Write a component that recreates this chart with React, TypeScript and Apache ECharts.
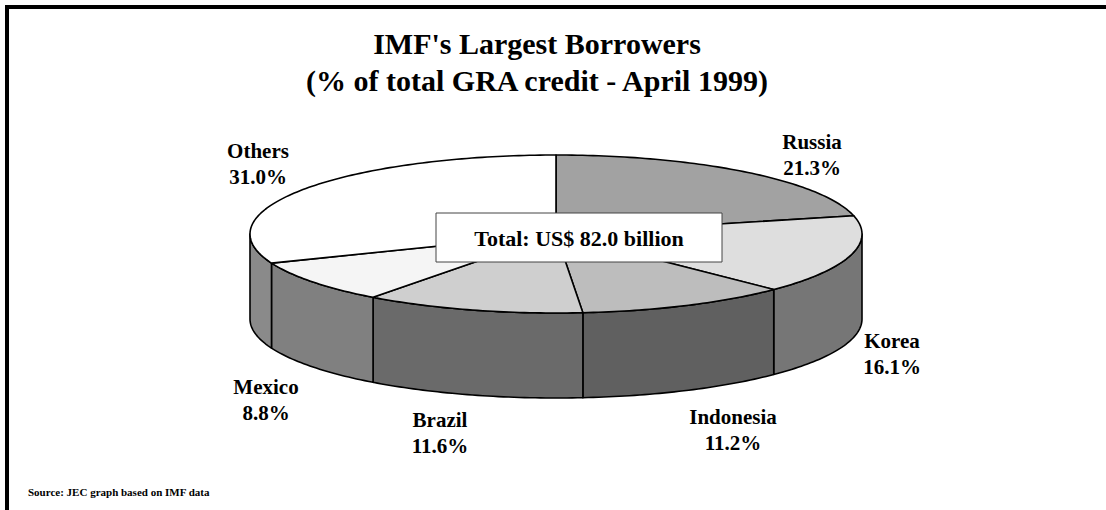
import React, { useEffect, useRef } from "react";
import * as echarts from "echarts";

// ---- data ----
const CATEGORIES = ["Russia", "Korea", "Indonesia", "Brazil", "Mexico", "Others"];
const VALUES = [21.3, 16.1, 11.2, 11.6, 8.8, 31.0];
const TITLE_LINES = ["IMF's Largest Borrowers", "(% of total GRA credit - April 1999)"];
const TOTAL_LABEL = "Total: US$ 82.0 billion";
const SOURCE_LABEL = "Source: JEC graph based on IMF data";

// ---- styles / layout ----
const TOP_COLORS = ["#a2a2a2", "#dedede", "#bdbdbd", "#cfcfcf", "#f5f5f5", "#ffffff"];
const SIDE_COLORS = ["#777777", "#767676", "#606060", "#6a6a6a", "#808080", "#8a8a8a"];
const CX = 556;
const CY = 234;
const RX = 306;
const RY = 79;
const DEPTH = 85;
// label centres (page pixels)
const LABEL_POS: [number, number][] = [
  [812, 155],
  [892, 354],
  [733, 430],
  [440, 433],
  [266, 400],
  [258, 164],
];
const FONT = "'Liberation Serif', 'Times New Roman', serif";

function pt(t: number, dy = 0): number[] {
  return [CX + RX * Math.sin(t), CY - RY * Math.cos(t) + dy];
}

function sliceAngles(): [number, number][] {
  const total = VALUES.reduce((s, v) => s + v, 0);
  let acc = 0;
  return VALUES.map((v) => {
    const a = (acc / total) * Math.PI * 2;
    acc += v;
    const b = (acc / total) * Math.PI * 2;
    return [a, b];
  });
}

function arc(a: number, b: number, dy = 0): number[][] {
  const n = Math.max(2, Math.ceil(Math.abs(b - a) / (Math.PI / 180)));
  const out: number[][] = [];
  for (let k = 0; k <= n; k++) out.push(pt(a + ((b - a) * k) / n, dy));
  return out;
}

export default function App() {
  const ref = useRef<HTMLDivElement>(null);
  useEffect(() => {
    if (!ref.current) return;
    const chart = echarts.init(ref.current, undefined, { renderer: "svg" });
    const angles = sliceAngles();
    const data = VALUES.map((v, i) => ({ name: CATEGORIES[i], value: [i, v] }));

    const option: any = {
      animation: false,
      backgroundColor: "#ffffff",
      title: {
        left: 532,
        top: 20,
        textAlign: "center",
        text: TITLE_LINES.join("\n"),
        textStyle: {
          fontFamily: FONT,
          fontWeight: "bold",
          fontSize: 30,
          lineHeight: 37,
          color: "#000",
        },
      },
      series: [
        {
          type: "custom",
          coordinateSystem: "none",
          z: 1,
          data,
          renderItem: (params: any, api: any) => {
            const i = params.dataIndex;
            const [a0, b0] = angles[i];
            const a = Math.max(a0, Math.PI / 2);
            const b = Math.min(b0, (Math.PI * 3) / 2);
            if (b <= a) return { type: "group", children: [] };
            const top = arc(a, b);
            const bottom = arc(b, a, DEPTH);
            return {
              type: "polygon",
              shape: { points: top.concat(bottom) },
              style: {
                fill: SIDE_COLORS[i],
                stroke: "#000",
                lineWidth: 1.6,
                lineJoin: "round",
              },
            };
          },
        },
        {
          type: "custom",
          coordinateSystem: "none",
          z: 2,
          data,
          renderItem: (params: any, api: any) => {
            const i = params.dataIndex;
            const [a, b] = angles[i];
            const pts = [[CX, CY]].concat(arc(a, b));
            const v = api.value(1);
            return {
              type: "group",
              children: [
                {
                  type: "polygon",
                  shape: { points: pts },
                  style: {
                    fill: TOP_COLORS[i],
                    stroke: "#000",
                    lineWidth: 1.6,
                    lineJoin: "round",
                  },
                },
                {
                  type: "text",
                  x: LABEL_POS[i][0],
                  y: LABEL_POS[i][1],
                  style: {
                    text: CATEGORIES[i] + "\n" + v.toFixed(1) + "%",
                    fontFamily: FONT,
                    fontWeight: "bold",
                    fontSize: 21,
                    lineHeight: 26,
                    fill: "#000",
                    align: "center",
                    verticalAlign: "middle",
                  },
                },
              ],
            };
          },
        },
      ],
      graphic: [
        {
          type: "rect",
          z: 0,
          shape: { x: 7, y: 7, width: 1300, height: 700 },
          style: { fill: "none", stroke: "#000", lineWidth: 4 },
        },
        {
          type: "rect",
          z: 100,
          shape: { x: 436, y: 213, width: 286, height: 49 },
          style: { fill: "#fff", stroke: "#444", lineWidth: 1 },
        },
        {
          type: "text",
          z: 101,
          x: 579,
          y: 238,
          style: {
            text: TOTAL_LABEL,
            fontFamily: FONT,
            fontWeight: "bold",
            fontSize: 22,
            fill: "#000",
            align: "center",
            verticalAlign: "middle",
          },
        },
        {
          type: "text",
          z: 100,
          x: 28,
          y: 492,
          style: {
            text: SOURCE_LABEL,
            fontFamily: FONT,
            fontWeight: "bold",
            fontSize: 11,
            fill: "#000",
            align: "left",
            verticalAlign: "middle",
          },
        },
      ],
    };
    chart.setOption(option);
    return () => chart.dispose();
  }, []);
  return (
    <div
      ref={ref}
      style={{ position: "fixed", left: 0, top: 0, width: 1106, height: 510 }}
    />
  );
}
